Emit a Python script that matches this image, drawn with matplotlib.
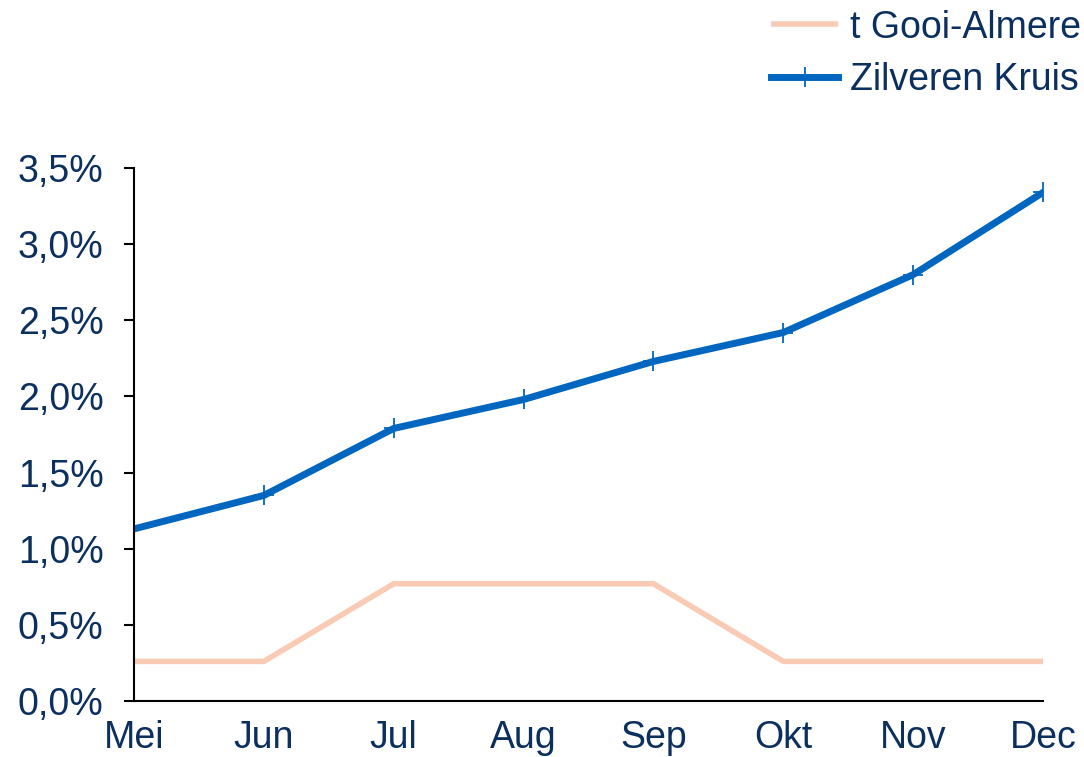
import matplotlib.pyplot as plt

plt.rcParams['font.family'] = ['Liberation Sans', 'DejaVu Sans']

months = ['Mei', 'Jun', 'Jul', 'Aug', 'Sep', 'Okt', 'Nov', 'Dec']
gooi = [0.26, 0.26, 0.77, 0.77, 0.77, 0.26, 0.26, 0.26]
zilveren = [1.13, 1.35, 1.79, 1.98, 2.23, 2.42, 2.80, 3.34]
yticks = [0.0, 0.5, 1.0, 1.5, 2.0, 2.5, 3.0, 3.5]

navy = '#0b2f5e'
blue = '#0066bf'
peach = '#f9cbb5'

fig = plt.figure(figsize=(10.84, 7.57), dpi=100)
ax = fig.add_axes([0.1236, 0.074, 0.8386, 0.704])

x = list(range(len(months)))
l1, = ax.plot(x, gooi, color=peach, lw=4, solid_capstyle='butt', label="t Gooi-Almere")
l2, = ax.plot(x, zilveren, color=blue, lw=5, marker='+', ms=14, mew=1.3,
              label='Zilveren Kruis')

ax.set_xlim(0, 7)
ax.set_ylim(0, 3.5)
ax.set_yticks(yticks)
ax.set_yticklabels([('%.1f%%' % v).replace('.', ',') for v in yticks])
ax.set_xticks(x)
ax.set_xticklabels(months)

for s in ['top', 'right']:
    ax.spines[s].set_visible(False)
for s in ['left', 'bottom']:
    ax.spines[s].set_linewidth(1.5)
ax.tick_params(axis='y', direction='out', length=7, width=1.5, labelsize=27,
               labelcolor=navy, pad=15)
ax.tick_params(axis='x', length=0, labelsize=27, labelcolor=navy, pad=14)

fig.legend(handles=[l1, l2], loc='upper right', bbox_to_anchor=(1.028, 1.032),
           frameon=False, fontsize=27, handlelength=1.8, handletextpad=0.3,
           labelcolor=navy, labelspacing=0.45)

fig.savefig('out.png', dpi=100)
